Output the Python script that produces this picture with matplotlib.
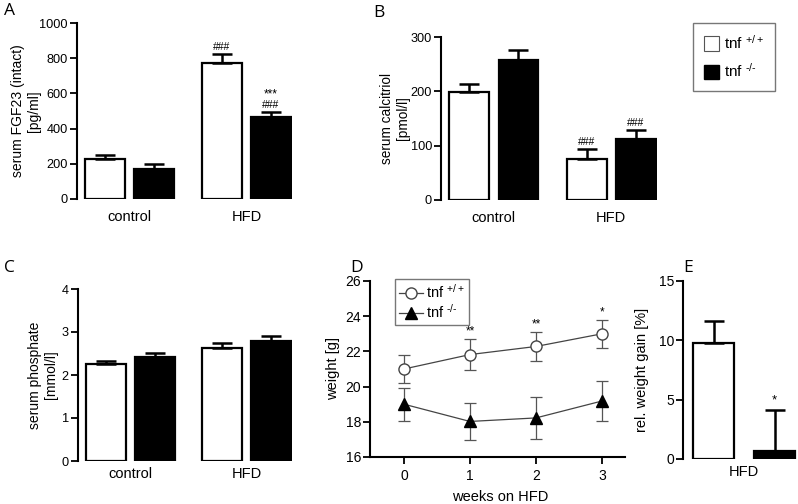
import matplotlib
matplotlib.use('Agg')
import matplotlib.pyplot as plt
import numpy as np
from matplotlib.patches import Patch
from matplotlib.lines import Line2D

plt.rcParams['font.family'] = ['Liberation Sans', 'DejaVu Sans']
plt.rcParams['mathtext.default'] = 'regular'
plt.rcParams['font.size'] = 10

groups = ['control', 'HFD']

# A: serum FGF23
fgf_wt = [227, 773]
fgf_wt_err = [21, 53]
fgf_ko = [170, 467]
fgf_ko_err = [28, 26]

# B: serum calcitriol
cal_wt = [198, 75]
cal_wt_err = [15, 18]
cal_ko = [258, 113]
cal_ko_err = [18, 15]

# C: serum phosphate
pho_wt = [2.25, 2.62]
pho_wt_err = [0.08, 0.12]
pho_ko = [2.42, 2.79]
pho_ko_err = [0.09, 0.12]

# D: weight over time
weeks = [0, 1, 2, 3]
wt_weight = [21.0, 21.82, 22.28, 23.0]
wt_weight_err = [0.82, 0.87, 0.8, 0.8]
ko_weight = [19.0, 18.02, 18.22, 19.18]
ko_weight_err = [0.93, 1.05, 1.17, 1.16]
d_stars = ['', '**', '**', '*']

# E: relative weight gain
gain = [9.74, 0.7]
gain_err = [1.85, 3.44]

lbl_wt = 'tnf $^{+/+}$'
lbl_ko = 'tnf $^{\u2010/\u2010}$'

W, H = 798, 504
fig = plt.figure(figsize=(W / 100, H / 100), dpi=100)


def add_ax(left, right, top, bottom):
    ax = fig.add_axes([left / W, 1 - bottom / H, (right - left) / W, (bottom - top) / H])
    ax.px = (left, right, top, bottom)
    return ax


def style(ax, bottom_spine=False, tick_size=9.2):
    for s in ['top', 'right']:
        ax.spines[s].set_visible(False)
    ax.spines['bottom'].set_visible(bottom_spine)
    ax.spines['left'].set_linewidth(1.5)
    ax.spines['bottom'].set_linewidth(1.5)
    ax.tick_params(axis='y', direction='out', length=5, width=1.3, labelsize=tick_size, pad=1.5)
    if bottom_spine:
        ax.tick_params(axis='x', direction='out', length=5, width=1.3, labelsize=tick_size)
    else:
        ax.tick_params(axis='x', length=0, labelsize=10.5, pad=8)


def bar_pairs(ax, wt, wt_err, ko, ko_err):
    x = np.arange(len(groups))
    off, w = 0.21, 0.34
    ax.bar(x - off, wt, w, color='white', edgecolor='black', linewidth=1.6, zorder=2)
    ax.bar(x + off, ko, w, color='black', edgecolor='black', linewidth=1.6, zorder=2)
    ax.errorbar(x - off, wt, yerr=[np.zeros(len(wt)), wt_err], fmt='none', ecolor='black',
                elinewidth=1.8, capsize=7, capthick=1.8, zorder=3)
    ax.errorbar(x + off, ko, yerr=[np.zeros(len(ko)), ko_err], fmt='none', ecolor='black',
                elinewidth=1.8, capsize=7, capthick=1.8, zorder=3)
    ax.set_xticks(x)
    ax.set_xticklabels(groups)
    ax.set_xlim(-0.45, 1.39)
    return x, off


def ylab(ax, text, right_px, size=10):
    # right_px: right edge of the rotated label block, in figure pixels
    left, right, top, bottom = ax.px
    ax.set_ylabel(text, fontsize=size, linespacing=1.15)
    ax.yaxis.set_label_coords((right_px - left) / (right - left), 0.5)


# Panel A
axA = add_ax(77, 292, 23, 199)
x, off = bar_pairs(axA, fgf_wt, fgf_wt_err, fgf_ko, fgf_ko_err)
axA.set_ylim(0, 1000)
axA.set_yticks([0, 200, 400, 600, 800, 1000])
style(axA)
ylab(axA, 'serum FGF23 (intact)\n[pg/ml]', 41)
axA.text(x[1] - off, fgf_wt[1] + fgf_wt_err[1] + 12, '###', ha='center', va='bottom', fontsize=7.5)
axA.text(x[1] + off, fgf_ko[1] + fgf_ko_err[1] + 12, '###', ha='center', va='bottom', fontsize=7.5)
axA.text(x[1] + off, fgf_ko[1] + fgf_ko_err[1] + 68, '***', ha='center', va='bottom', fontsize=8.5)

# Panel B
axB = add_ax(441, 657, 37, 200)
x, off = bar_pairs(axB, cal_wt, cal_wt_err, cal_ko, cal_ko_err)
axB.set_ylim(0, 300)
axB.set_yticks([0, 100, 200, 300])
style(axB)
ylab(axB, 'serum calcitriol\n[pmol/l]', 410, size=9.8)
axB.text(x[1] - off, cal_wt[1] + cal_wt_err[1] + 4, '###', ha='center', va='bottom', fontsize=7.5)
axB.text(x[1] + off, cal_ko[1] + cal_ko_err[1] + 4, '###', ha='center', va='bottom', fontsize=7.5)

handles = [Patch(facecolor='white', edgecolor='#555555', linewidth=0.8),
           Patch(facecolor='black', edgecolor='black')]
fig.legend(handles, [lbl_wt, lbl_ko], loc='upper left',
           bbox_to_anchor=(693 / W, 1 - 23 / H), borderaxespad=0, frameon=True, fancybox=False,
           edgecolor='#555555', fontsize=11, handlelength=1.0, handleheight=1.1,
           handletextpad=0.3, labelspacing=0.7, borderpad=0.7)

# Panel C
axC = add_ax(78, 292, 289, 461)
bar_pairs(axC, pho_wt, pho_wt_err, pho_ko, pho_ko_err)
axC.set_ylim(0, 4)
axC.set_yticks([0, 1, 2, 3, 4])
style(axC)
ylab(axC, 'serum phosphate\n[mmol/l]', 58)
axC.tick_params(axis='x', pad=4)

# Panel D
axD = add_ax(370, 625, 281, 457)
axD.errorbar(weeks, wt_weight, yerr=wt_weight_err, fmt='-o', color='#444444', mfc='white',
             mec='#444444', ms=8, lw=0.9, ecolor='#555555', elinewidth=0.9, capsize=4.5, capthick=0.9)
axD.errorbar(weeks, ko_weight, yerr=ko_weight_err, fmt='-^', color='#444444', mfc='black',
             mec='black', ms=8, lw=0.9, ecolor='#555555', elinewidth=0.9, capsize=4.5, capthick=0.9)
for wk, v, e, s in zip(weeks, wt_weight, wt_weight_err, d_stars):
    if s:
        axD.text(wk, v + e + 0.1, s, ha='center', va='bottom', fontsize=8.5)
axD.set_xlim(-0.515, 3.35)
axD.set_ylim(16, 26)
axD.set_xticks(weeks)
axD.set_yticks([16, 18, 20, 22, 24, 26])
style(axD, bottom_spine=True, tick_size=10)
ylab(axD, 'weight [g]', 340, size=10.5)
axD.set_xlabel('weeks on HFD', fontsize=10.5)
axD.xaxis.set_label_coords((500 - 370) / 255, (457 - 490) / 176)
dh = [Line2D([], [], color='#444444', marker='o', mfc='white', mec='#444444', ms=8, lw=0.9),
      Line2D([], [], color='#444444', marker='^', mfc='black', mec='black', ms=8, lw=0.9)]
axD.legend(dh, [lbl_wt, lbl_ko], loc='upper left', bbox_to_anchor=(0.098, 1.01), borderaxespad=0,
           frameon=True, fancybox=False, edgecolor='#555555', fontsize=10.5,
           handlelength=1.7, handletextpad=0.2, labelspacing=0.15, borderpad=0.25)

# Panel E
axE = add_ax(683, 798, 281, 459)
xe = np.arange(2)
axE.bar(xe, gain, 0.67, color=['white', 'black'], edgecolor='black', linewidth=1.6, zorder=2)
axE.errorbar(xe, gain, yerr=[np.zeros(2), gain_err], fmt='none', ecolor='black',
             elinewidth=1.8, capsize=7, capthick=1.8, zorder=3)
axE.text(xe[1], gain[1] + gain_err[1] + 0.25, '*', ha='center', va='bottom', fontsize=9.5)
axE.set_xlim(-0.5, 1.385)
axE.set_ylim(0, 15)
axE.set_yticks([0, 5, 10, 15])
axE.set_xticks([0.5])
axE.set_xticklabels(['HFD'])
style(axE, tick_size=10)
ylab(axE, 'rel. weight gain [%]', 649, size=10.5)
axE.tick_params(axis='x', pad=4)

# panel letters
for lx, ly, lt in [(4, 11, 'A'), (373, 13, 'B'), (4, 268, 'C'), (350, 268, 'D'), (683, 268, 'E')]:
    fig.text(lx / W, 1 - ly / H, lt, fontsize=12.5, family='Open Sans', va='center', ha='left')

fig.savefig('out.png', dpi=100)
